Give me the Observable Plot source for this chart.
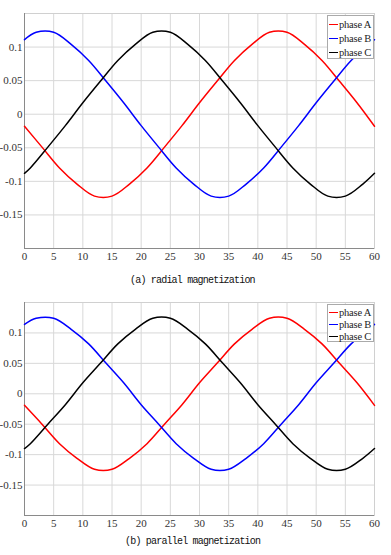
<!DOCTYPE html>
<html>
<head>
<meta charset="utf-8">
<script src="https://cdn.jsdelivr.net/npm/d3@7"></script>
<script src="https://cdn.jsdelivr.net/npm/@observablehq/plot@0.6"></script>
<style>
  html, body { margin: 0; padding: 0; background: #fff; }
  #wrap { position: relative; width: 391px; height: 555px; background: #fff; overflow: hidden; }
  .panel { position: absolute; left: 0; }
  .panel text { font-family: "Liberation Serif", serif; }
  .legend { position: absolute; background: #fff; border: 1px solid #aaa; box-sizing: border-box;
            font-family: "Liberation Serif", serif; font-size: 10.5px; color: #222; padding-left: 1px; }
  .legend .row { display: flex; align-items: center; white-space: nowrap; letter-spacing: -0.2px; }
  .legend .sw { display: inline-block; width: 9px; height: 0; border-top: 1.6px solid; margin-right: 1px; }
  .caption { position: absolute; font-family: "Liberation Mono", monospace; font-size: 10px;
             letter-spacing: -0.8px; color: #111; white-space: nowrap; }
</style>
</head>
<body>
<div id="wrap"></div>
<script>
// ---------- data ----------
const seriesNames = ["phase A", "phase B", "phase C"];
const seriesColors = ["#ff0000", "#0000ff", "#000000"];
const xTicks = [0, 5, 10, 15, 20, 25, 30, 35, 40, 45, 50, 55, 60];
const yTicks = [-0.15, -0.1, -0.05, 0, 0.05, 0.1];
const captions = ["(a) radial magnetization", "(b) parallel magnetization"];

const xA = [0, 3, 6, 9, 12, 15, 18, 21, 24, 27, 30, 33, 36, 39, 42, 45, 48, 51, 54, 57, 60];
const xB = [0, 2, 5, 8, 11, 14, 17, 20, 23, 26, 29, 32, 35, 38, 41, 44, 47, 50, 53, 56, 59, 60];
const xC = [0, 1, 4, 7, 10, 13, 16, 19, 22, 25, 28, 31, 34, 37, 40, 43, 46, 49, 52, 55, 58, 60];

// (a) radial magnetization
const aTop = [-0.018, -0.049, -0.080, -0.104, -0.122, -0.122, -0.104, -0.080, -0.049, -0.017, 0.017, 0.049, 0.080, 0.104, 0.122, 0.122, 0.104, 0.080, 0.049, 0.017, -0.018];
const bTop = [0.111, 0.122, 0.122, 0.104, 0.080, 0.049, 0.017, -0.017, -0.049, -0.080, -0.104, -0.122, -0.122, -0.104, -0.080, -0.049, -0.017, 0.017, 0.049, 0.080, 0.104, 0.111];
const cTop = [-0.088, -0.080, -0.049, -0.017, 0.017, 0.049, 0.080, 0.104, 0.122, 0.122, 0.104, 0.080, 0.049, 0.017, -0.017, -0.049, -0.080, -0.104, -0.122, -0.122, -0.104, -0.088];

// (b) parallel magnetization
const aBot = [-0.019, -0.050, -0.082, -0.106, -0.124, -0.124, -0.106, -0.082, -0.050, -0.018, 0.018, 0.050, 0.082, 0.106, 0.124, 0.124, 0.106, 0.082, 0.050, 0.018, -0.019];
const bBot = [0.114, 0.124, 0.124, 0.106, 0.082, 0.050, 0.018, -0.018, -0.050, -0.082, -0.106, -0.124, -0.124, -0.106, -0.082, -0.050, -0.018, 0.018, 0.050, 0.082, 0.106, 0.114];
const cBot = [-0.090, -0.082, -0.050, -0.018, 0.018, 0.050, 0.082, 0.106, 0.124, 0.124, 0.106, 0.082, 0.050, 0.018, -0.018, -0.050, -0.082, -0.106, -0.124, -0.124, -0.106, -0.090];

// ---------- build ----------
function table(a, b, c) {
  const rows = [];
  xA.forEach((x, i) => rows.push({x, y: a[i], s: seriesNames[0]}));
  xB.forEach((x, i) => rows.push({x, y: b[i], s: seriesNames[1]}));
  xC.forEach((x, i) => rows.push({x, y: c[i], s: seriesNames[2]}));
  return rows;
}

function makePanel(rows, height, marginTop) {
  return Plot.plot({
    width: 391,
    height,
    marginTop,
    marginBottom: 17,
    marginLeft: 24,
    marginRight: 17,
    style: {fontFamily: '"Liberation Serif", serif', fontSize: "11px", color: "#333", background: "#fff"},
    x: {domain: [0, 60], label: null},
    y: {domain: [-0.2, 0.15], label: null},
    color: {domain: seriesNames, range: seriesColors},
    marks: [
      Plot.gridX(xTicks, {stroke: "#d8d8d8", strokeOpacity: 1}),
      Plot.gridY(yTicks, {stroke: "#d8d8d8", strokeOpacity: 1}),
      Plot.frame({stroke: "#d0d0d0"}),
      Plot.ruleX([0], {stroke: "#8a8a8a"}),
      Plot.ruleY([-0.2], {stroke: "#8a8a8a"}),
      Plot.axisX(xTicks, {tickSize: 0, tickPadding: 4, label: null, tickFormat: d => String(d), fill: "#333"}),
      Plot.axisY(yTicks, {tickSize: 0, tickPadding: 2, label: null, tickFormat: d => String(d), fill: "#333"}),
      Plot.line(rows, {x: "x", y: "y", z: "s", stroke: "s", strokeWidth: 1.5, curve: "catmull-rom"})
    ]
  });
}

const wrap = document.getElementById("wrap");

function addPanel(top, rows, height, marginTop, legendBox, rowH, capTop, capLeft, caption) {
  const svg = makePanel(rows, height, marginTop);
  svg.classList.add("panel");
  svg.style.top = top + "px";
  wrap.appendChild(svg);

  const lg = document.createElement("div");
  lg.className = "legend";
  lg.style.left = legendBox[0] + "px";
  lg.style.top = legendBox[1] + "px";
  lg.style.width = legendBox[2] + "px";
  lg.style.height = legendBox[3] + "px";
  lg.style.paddingTop = legendBox[4] + "px";
  seriesNames.forEach((n, i) => {
    const r = document.createElement("div");
    r.className = "row";
    r.style.height = rowH + "px";
    const sw = document.createElement("span");
    sw.className = "sw";
    sw.style.borderTopColor = seriesColors[i];
    r.appendChild(sw);
    r.appendChild(document.createTextNode(n));
    lg.appendChild(r);
  });
  wrap.appendChild(lg);

  const cap = document.createElement("div");
  cap.className = "caption";
  cap.style.top = capTop + "px";
  cap.style.left = capLeft + "px";
  cap.textContent = caption;
  wrap.appendChild(cap);
}

addPanel(0, table(aTop, bTop, cTop), 265, 13, [327, 15, 47, 44, 1], 14, 275, 130, captions[0]);
addPanel(290, table(aBot, bBot, cBot), 242, 12, [327, 304, 47, 38, 1], 12.3, 536, 125, captions[1]);
</script>
</body>
</html>
